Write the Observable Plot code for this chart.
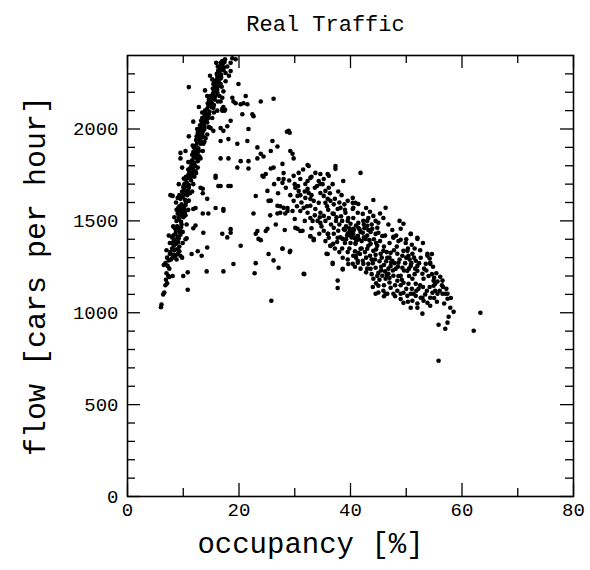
<!DOCTYPE html>
<html>
<head>
<meta charset="utf-8">
<script src="https://cdn.jsdelivr.net/npm/d3@7"></script>
<script src="https://cdn.jsdelivr.net/npm/@observablehq/plot@0.6"></script>
<style>
  html, body { margin: 0; padding: 0; background: #fff; }
  #chart svg { display: block; }
</style>
</head>
<body>
<div id="chart"></div>
<script>
// Free-flow branch: [occupancy %, flow cars/hour]
const freeFlow = [
  [6.0,1030],[6.1,1045],[6.4,1100],[6.6,1110],[6.8,1150],[7.1,1160],[6.9,1180],[7.3,1200],[7.5,1195],[8.1,1200],
  [6.5,1260],[6.8,1270],[7.2,1255],[7.5,1240],[7.8,1290],[8.1,1300],[8.6,1310],[9.0,1320],[9.5,1310],[7.7,1330],
  [8.0,1350],[8.4,1340],[8.9,1345],[9.3,1335],[7.9,1380],[8.3,1390],[8.7,1375],[9.1,1385],[8.2,1420],[8.6,1430],
  [9.0,1415],[9.4,1440],[8.5,1460],[8.9,1470],[9.3,1455],[9.7,1480],[8.8,1500],[9.2,1510],[9.6,1495],[10.0,1520],
  [9.0,1540],[9.4,1550],[9.8,1535],[10.2,1560],[9.3,1580],[9.7,1590],[10.1,1575],[10.5,1600],[9.5,1620],[9.9,1630],
  [10.3,1615],[10.7,1640],[9.8,1660],[10.2,1670],[10.6,1655],[11.0,1680],[10.2,1700],[10.6,1710],[11.0,1695],[11.4,1720],
  [10.5,1740],[10.9,1750],[11.3,1735],[11.7,1760],[10.9,1780],[11.3,1790],[11.7,1775],[12.1,1800],[11.2,1820],[11.6,1830],
  [12.0,1815],[12.4,1840],[11.6,1860],[12.0,1870],[12.4,1855],[12.8,1880],[11.9,1900],[12.3,1910],[12.7,1895],[13.1,1920],
  [12.3,1940],[12.7,1950],[13.1,1935],[13.5,1960],[12.6,1980],[13.0,1990],[13.4,1975],[13.8,2000],[13.0,2020],[13.4,2030],
  [13.8,2015],[14.2,2040],[13.4,2060],[13.8,2070],[14.2,2055],[14.6,2080],[13.9,2100],[14.3,2110],[14.7,2095],[15.1,2120],
  [14.4,2140],[14.8,2150],[15.2,2135],[15.6,2160],[14.9,2180],[15.3,2190],[15.7,2175],[16.1,2200],[15.3,2220],[15.7,2230],
  [16.1,2215],[16.5,2240],[15.6,2260],[16.0,2270],[16.4,2255],[16.8,2280],[16.0,2300],[16.4,2310],[16.8,2295],[17.2,2320],
  [16.5,2340],[16.9,2350],[17.3,2335],[17.0,2370],[17.5,2380],[18.8,2385],[19.4,2380],[18.5,2360],[17.9,2340],[18.5,2315],
  [17.6,2305],[7.0,1215],[7.4,1285],[8.3,1365],[8.8,1400],[9.6,1465],[9.2,1525],[9.9,1555],[10.4,1585],[10.0,1645],
  [10.8,1665],[10.4,1725],[11.1,1765],[11.5,1805],[11.9,1845],[12.2,1885],[12.5,1925],[12.9,1965],[13.2,2005],[13.6,2045],
  [14.0,2085],[14.5,2125],[15.0,2165],[15.5,2205],[15.9,2245],[16.3,2285],[16.7,2325],[17.1,2355],[16.9,2230],[16.2,2150],
  [15.2,2060],[14.3,1970],[13.5,1880],[12.6,1790],[11.8,1700],[11.0,1610],[10.4,1530],[9.9,1440],[9.3,1360],[15.2,2270],
  [14.3,2180],[13.4,2090],[12.5,2000],[11.7,1910],[10.9,1820],[10.1,1730],[9.3,1640],[8.8,1560],[8.2,1470],[7.6,1380],
  [7.1,1300],[16.3,2315],[16.1,2290],[16.7,2275],[16.3,2250],[16.7,2245],[17.2,2205],[16.1,2190],[15.2,2170],[17.0,2170],
  [16.7,2150],[15.2,2135],[15.4,2115],[16.1,2100],[17.0,2100],[14.5,2060],[14.3,2035],[14.9,2005],[15.4,1990],[13.6,1990],
  [14.0,1950],[13.1,1935],[13.6,1920],[12.7,1880],[13.1,1840],[12.6,1825],[11.8,1790],[11.3,1755],[12.2,1770],
  [8.4,1520],[10.6,1480],[8.7,1600],[10.9,1560],[9.2,1700],[11.6,1660],[9.8,1790],[12.3,1760],[10.4,1880],[12.9,1850],
  [11.0,1960],[13.8,1930],[11.8,2040],[14.6,2010],[12.8,2120],[15.5,2090],[13.9,2210],[16.5,2180],[14.8,2290],[17.6,2260],
  [15.9,2360],[18.2,2290],[7.0,1340],[9.8,1300],[7.4,1420],[9.9,1380],
  [8.3,1315],[7.6,1320],[8.8,1290],[8.5,1395],[9.2,1405],[8.0,1410],[8.7,1445],[9.5,1425],[9.5,1565],[10.3,1545],
  [9.1,1570],[10.5,1690],[10.0,1685],[11.2,1650],[11.0,1735],[11.5,1745],[12.0,1740],[12.2,1865],[11.8,1875],[12.6,1860],
  [12.9,1945],[13.3,1955],[12.4,1960],[13.9,2035],[14.4,2065],[13.2,2045],[15.0,2145],[15.5,2130],[14.6,2160],[15.9,2225],
  [16.4,2235],[15.4,2245],[16.7,2360],[17.4,2365],[16.2,2340],[17.0,2110],[17.4,2100],[17.2,2120],[17.5,2105],[15.8,2210],
  [16.0,2205],[16.3,2320],[16.5,2310]
];

// Scattered points between the two branches
const transition = [
  [11.0,2228],[9.5,1870],[9.5,1840],[8.1,1636],[9.0,1625],[7.7,1640],
  [19.9,2245],[21.2,2180],[23.9,2150],[26.2,2165],[19.0,2150],[20.8,2140],[21.5,2135],[22.4,2080],[22.6,2070],[20.6,2080],
  [18.8,2170],[19.4,2140],[20.3,2135],[17.9,2015],[18.5,2045],[16.7,2005],[17.2,1990],[28.9,1990],[28.6,1985],[29.1,1980],
  [26.0,1935],[26.9,1905],[23.3,1900],[23.9,1865],[24.4,1850],[21.5,1935],[21.7,2000],[19.7,1920],[18.1,1945],[16.7,1935],
  [29.2,1880],[29.6,1865],[29.8,1840],[27.8,1810],[26.2,1790],[25.7,1785],[23.3,1840],[21.7,1825],[20.3,1825],[19.7,1790],
  [21.7,1785],[18.1,1840],[16.7,1840],[24.4,1740],[15.8,1745],[18.1,1690],[16.7,1690],[25.7,1880],[13.1,1680],[14.3,1620],
  [23.0,1635],[25.7,1610],[27.4,1580],[28.7,1570],[22.6,1540],[13.5,1540],[14.5,1540],[17.2,1555],[12.2,1475],[23.3,1445],
  [24.8,1445],[26.9,1540],[28.3,1540],[18.5,1435],[13.5,1675],[13.5,1650],[15.8,1735],[16.3,1690],[18.5,1690],[15.8,1570],
  [17.2,1565],[12.2,1570],[11.8,1565],[11.8,1460],[13.6,1435],[18.5,1455],[17.0,1430],[17.9,1410],[10.4,1400],[10.6,1405],
  [11.5,1320],[12.6,1335],[13.3,1310],[14.3,1355],[10.0,1200],[10.8,1220],[10.8,1125],[14.2,1225],[17.2,1225],[19.0,1265],
  [20.3,1365],[23.0,1430],[23.9,1395],[23.0,1270],[22.8,1215],[25.3,1320],[26.2,1285],[27.1,1245],[27.8,1350],[29.1,1330],
  [25.8,1065],[31.7,1210],[31.0,1445],[32.8,1415],[33.4,1395],[35.5,1390],[35.9,1320],[36.8,1265],[36.4,1365],[36.9,1375],
  [37.7,1175],[37.7,1135],[38.6,1235],[39.6,1265],[38.2,1410],[39.5,1430],[25.1,1457],[23.5,1402],[29.2,1337]
];

// Congested branch
const congested = [
  [32.3,1804],[32.5,1799],[37.3,1799],[37.3,1783],[33.7,1761],[34.6,1755],[35.9,1755],[36.1,1745],[41.8,1761],[24.2,1745],
  [24.8,1755],[27.1,1728],[28.0,1728],[27.8,1707],[29.8,1745],[30.7,1761],[31.0,1728],[32.3,1717],[31.9,1701],[32.8,1734],
  [34.3,1717],[34.6,1701],[35.2,1728],[38.7,1717],[25.1,1663],[25.3,1609],[30.1,1680],[30.7,1663],[30.5,1636],[29.8,1609],
  [32.3,1674],[32.5,1652],[31.9,1625],[34.6,1652],[35.5,1663],[36.1,1680],[35.2,1636],[35.9,1620],[36.4,1609],[35.5,1598],
  [34.3,1598],[33.4,1609],[32.8,1582],[28.0,1571],[26.9,1582],[27.4,1544],[28.7,1554],[29.6,1554],[31.0,1554],[31.6,1571],
  [32.3,1544],[33.7,1565],[34.6,1544],[35.2,1527],[36.1,1516],[37.0,1538],[37.7,1565],[38.2,1571],[39.5,1609],[40.4,1598],
  [40.5,1571],[39.1,1544],[39.6,1516],[32.8,1516],[33.2,1500],[34.1,1500],[34.6,1489],[30.1,1462],[31.4,1446],[30.5,1457],
  [32.8,1418],[33.4,1402],[35.2,1446],[35.9,1429],[36.1,1408],[37.0,1462],[37.8,1446],[38.6,1402],[37.7,1408],[39.5,1500],
  [40.0,1484],[40.5,1429],[41.3,1418],[41.4,1462],[40.9,1380],[36.4,1364],[35.7,1321],[27.8,1348],[38.6,1299],[40.9,1310],
  [41.3,1272],[40.4,1266],[41.4,1326],[36.8,1272],[38.6,1239],[31.6,1212],[44.1,1614],[46.3,1571],[45.9,1516],[40.4,1625],
  [40.9,1598],[41.4,1592],[40.4,1565],[41.3,1544],[42.2,1538],[42.3,1500],[43.2,1516],[44.1,1527],[44.5,1500],[40.5,1516],
  [41.4,1489],[43.0,1473],[43.9,1457],[44.8,1462],[45.0,1435],[45.7,1418],[44.5,1429],[47.7,1408],[49.0,1457],[49.5,1484],
  [50.8,1429],[52.0,1402],[49.0,1397],[49.9,1380],[40.5,1457],[41.3,1418],[42.2,1435],[42.7,1402],[40.0,1380],[40.9,1375],
  [41.8,1348],[43.0,1348],[43.6,1375],[44.1,1337],[44.8,1364],[45.4,1321],[45.9,1337],[46.6,1299],[47.2,1326],[47.5,1283],
  [48.4,1321],[48.6,1272],[49.5,1337],[50.2,1337],[50.4,1310],[51.1,1321],[51.7,1283],[52.0,1255],[52.6,1299],[53.5,1266],
  [53.8,1321],[54.3,1272],[47.2,1255],[48.1,1239],[49.3,1245],[50.2,1228],[50.8,1255],[52.0,1228],[52.9,1212],[40.5,1310],
  [41.3,1283],[42.2,1283],[42.3,1266],[43.2,1266],[43.6,1239],[44.5,1245],[45.0,1217],[45.7,1201],[46.3,1185],[46.8,1212],
  [47.7,1201],[48.4,1174],[49.0,1201],[49.5,1163],[50.4,1158],[51.1,1185],[51.7,1158],[52.2,1130],[53.1,1185],[56.1,1196],
  [54.9,1147],[55.2,1120],[56.5,1103],[57.4,1103],[54.3,1082],[52.9,1082],[51.7,1092],[50.8,1103],[49.5,1109],[48.4,1120],
  [47.2,1136],[46.6,1103],[45.9,1120],[44.5,1103],[45.0,1147],[44.1,1185],[47.7,1413],[50.8,1429],[52.0,1408],[53.8,1310],
  [54.3,1266],[54.9,1174],[55.2,1158],[54.7,1109],[55.6,1103],[57.0,1103],[57.4,1076],[57.9,1027],[58.5,1005],[57.6,978],
  [55.8,935],[57.4,946],[57.0,913],[63.3,1000],[62.1,902],[55.8,739],[52.6,1082],[53.1,1065],[53.8,1054],[54.3,1038],
  [52.9,995],[52.0,1027],[50.8,1027],[49.5,1054],[51.3,1103],[51.1,1065],[50.2,1092],[49.0,1103],[47.7,1103],[46.3,1103],
  [38.0,1480],[38.8,1455],[39.2,1470],[39.8,1440],[40.6,1450],[41.0,1475],[41.8,1440],[42.5,1460],[43.0,1420],[43.6,1440],
  [44.2,1400],[43.4,1395],[42.0,1390],[41.5,1400],[40.2,1410],[39.0,1380],[39.8,1350],[40.8,1335],[41.7,1320],[42.6,1330],
  [43.5,1310],[44.4,1290],[45.2,1280],[46.0,1260],[46.8,1240],[47.6,1230],[43.0,1240],[44.0,1270],[45.5,1250],[46.2,1225],
  [47.9,1270],[48.8,1290],[49.8,1270],[50.6,1290],[51.6,1240],[50.5,1200],[49.2,1180],[48.0,1150],[47.0,1165],[46.0,1150],
  [45.2,1180],[44.6,1160],[44.0,1140],[53.6,1230],[54.6,1210],[55.6,1170],[56.4,1150],[52.5,1150],[53.7,1120],[51.0,1130],
  [36.0,1560],[36.8,1540],[37.4,1500],[38.3,1525],[38.9,1590],[37.2,1620],[36.3,1650],[33.6,1680],[32.8,1620],[31.2,1600],
  [30.4,1580],[29.2,1640],[28.4,1680],[27.0,1650],[26.3,1700],[33.0,1460],[34.4,1430],[31.8,1500],[30.0,1510],[28.2,1450],
  [26.6,1480],[25.6,1530],
  [37.5,1520],[38.5,1500],[39.0,1450],[39.4,1420],[40.3,1440],[41.1,1395],[42.4,1410],[43.2,1450],[44.6,1380],[45.3,1390],
  [46.0,1360],[46.5,1330],[47.0,1300],[47.8,1340],[48.3,1360],[49.3,1310],[50.0,1300],[50.9,1270],[51.4,1300],[52.3,1270],
  [53.2,1240],[54.0,1200],[55.0,1190],[56.0,1120],[55.5,1060],[56.8,1050],[58.0,1080],[53.4,1100],[52.0,1050],[50.3,1060],
  [49.0,1075],[48.0,1090],[46.0,1090],[45.0,1110],[44.8,1200],[43.8,1210],[42.8,1220],[41.8,1240],[40.8,1250],[39.5,1290],
  [38.0,1330],[37.2,1350],[36.0,1430],[34.8,1470],[33.6,1530],[32.2,1580],[31.0,1640],[30.0,1700],[29.0,1720],[28.0,1760],
  [31.5,1780],[33.0,1740],[34.0,1690],[35.0,1700],[36.8,1700],[37.8,1660],[38.4,1640],[39.0,1560],[42.8,1570],[43.5,1550],
  [45.3,1540],[46.8,1480],[47.5,1450],[48.2,1420],[48.8,1500],[50.0,1400],[51.0,1370],[51.5,1350],[52.5,1340],[53.0,1380],
  [54.6,1320],[54.2,1295],[54.8,1250],[55.4,1215],[56.5,1175],[57.2,1130],[56.6,1140],
  [39.2,1400],[40.0,1420],[40.8,1405],[41.6,1455],[42.4,1480],[43.0,1500],[43.8,1480],[42.0,1350],[43.2,1365],[44.6,1345],
  [45.6,1300],[46.4,1280],[47.3,1275],[48.5,1250],[49.6,1230],[50.5,1240],[51.5,1210],[48.6,1200],[47.0,1190],[46.5,1205],
  [45.5,1230],[44.5,1315],[43.8,1290],[42.8,1300],[41.0,1300],[39.5,1330],[38.5,1350],[37.6,1385],[37.0,1430],[36.5,1480],
  [35.5,1500],[34.5,1520],[35.8,1580],[37.0,1590],[38.0,1600],[33.0,1640],[31.8,1660],[30.6,1690],[39.8,1460],[45.0,1490],
  [46.2,1420],[47.0,1380],[48.6,1390],[50.3,1350],[49.0,1150],[50.0,1130],[51.8,1120],[53.0,1140],[54.2,1140],[55.0,1080]
];

const xMajor = [0, 20, 40, 60, 80];
const xMinor = [10, 30, 50, 70];
const yMajor = [0, 500, 1000, 1500, 2000];
const yMinor = [100,200,300,400,600,700,800,900,1100,1200,1300,1400,1600,1700,1800,1900,2100,2200,2300];

const points = [...freeFlow, ...transition, ...congested].map(([occ, flow]) => ({occ, flow}));

const W = 590, H = 570;
const mT = 55, mB = 74, mL = 127, mR = 17;
const iw = W - mL - mR, ih = H - mT - mB;
const major = 13, minor = 8;
const font = "'Liberation Mono', 'Courier New', monospace";

const chart = Plot.plot({
  width: W,
  height: H,
  marginTop: mT,
  marginBottom: mB,
  marginLeft: mL,
  marginRight: mR,
  style: {fontFamily: font, fontSize: "19px", color: "black", background: "white"},
  x: {domain: [0, 80], label: null},
  y: {domain: [0, 2400], label: null},
  marks: [
    Plot.dot(points, {x: "occ", y: "flow", r: 2.3, fill: "black", stroke: "none"}),
    // inward ticks on all four sides
    Plot.ruleX(xMajor, {x: d => d, insetTop: ih - major, strokeWidth: 1.3}),
    Plot.ruleX(xMinor, {x: d => d, insetTop: ih - minor, strokeWidth: 1.3}),
    Plot.ruleX(xMajor, {x: d => d, insetBottom: ih - major, strokeWidth: 1.3}),
    Plot.ruleX(xMinor, {x: d => d, insetBottom: ih - minor, strokeWidth: 1.3}),
    Plot.ruleY(yMajor, {y: d => d, insetRight: iw - major, strokeWidth: 1.3}),
    Plot.ruleY(yMinor, {y: d => d, insetRight: iw - minor, strokeWidth: 1.3}),
    Plot.ruleY(yMajor, {y: d => d, insetLeft: iw - major, strokeWidth: 1.3}),
    Plot.ruleY(yMinor, {y: d => d, insetLeft: iw - minor, strokeWidth: 1.3}),
    Plot.frame({stroke: "black", strokeWidth: 1.6}),
    Plot.axisX(xMajor, {tickSize: 0, tickPadding: 6, fontSize: 19, label: null, tickFormat: d => String(d)}),
    Plot.axisY(yMajor, {tickSize: 0, tickPadding: 9, fontSize: 19, label: null, tickFormat: d => String(d)}),
    Plot.text(["Real Traffic"], {frameAnchor: "top", textAnchor: "middle", lineAnchor: "middle", dx: -25, dy: -32, fontSize: 22, fill: "black"}),
    Plot.text(["occupancy [%]"], {frameAnchor: "bottom", textAnchor: "middle", lineAnchor: "middle", dx: -40, dy: 47, fontSize: 29, fill: "black"}),
    Plot.text(["flow [cars per hour]"], {frameAnchor: "left", textAnchor: "middle", lineAnchor: "middle", dx: -92, rotate: -90, fontSize: 30, fill: "black"})
  ]
});
document.getElementById("chart").appendChild(chart);
</script>
</body>
</html>
